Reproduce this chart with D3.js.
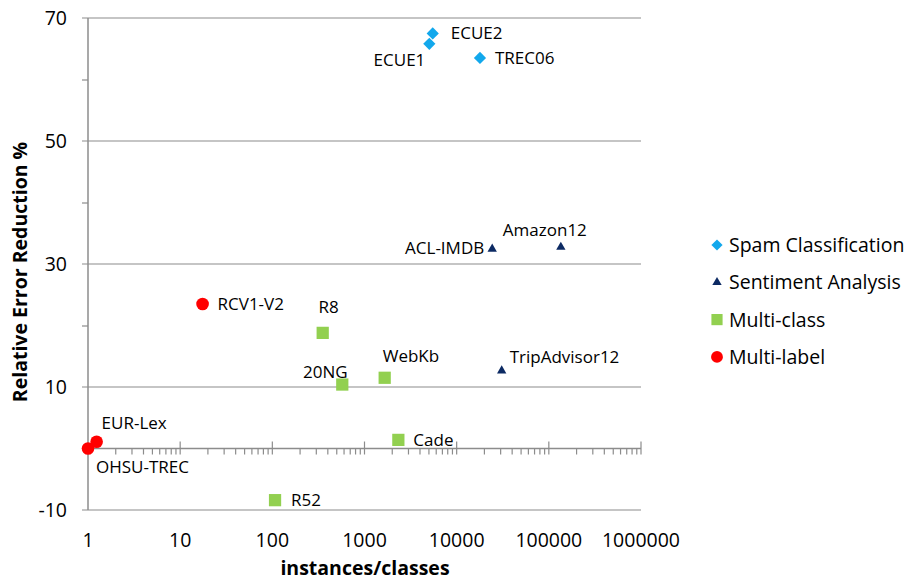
<!DOCTYPE html>
<html>
<head>
<meta charset="utf-8">
<style>
body { margin: 0; background: #fff; }
text { font-family: "Open Sans", sans-serif; fill: #000; }
.grid { stroke: #8c8c8c; stroke-width: 1.2px; }
.axisline { stroke: #8c8c8c; stroke-width: 1.5px; fill: none; }
.tick-label { font-size: 19.5px; }
.pt-label { font-size: 17px; }
.legend text { font-size: 19.5px; }
.title { font-size: 19.5px; font-weight: 700; }
</style>
</head>
<body>
<script src="https://cdn.jsdelivr.net/npm/d3@7"></script>
<script>

// series data: instances/classes vs relative error reduction %
var spamNames = ["ECUE2", "ECUE1", "TREC06"];
var spamX = [5500, 5050, 17900];
var spamY = [67.5, 65.8, 63.5];

var sentNames = ["ACL-IMDB", "Amazon12", "TripAdvisor12"];
var sentX = [24300, 135000, 30800];
var sentY = [32.2, 32.5, 12.4];

var mcNames = ["R8", "20NG", "WebKb", "Cade", "R52"];
var mcX = [352, 574, 1656, 2330, 107];
var mcY = [18.8, 10.4, 11.5, 1.4, -8.4];

var mlNames = ["RCV1-V2", "EUR-Lex", "OHSU-TREC"];
var mlX = [17.5, 1.24, 1.0];
var mlY = [23.5, 1.1, 0];

var yTicks = [-10, 10, 30, 50, 70];
var yMinor = [0, 20, 40, 60];
var xTicks = [1, 10, 100, 1000, 10000, 100000, 1000000];
var legendNames = ["Spam Classification", "Sentiment Analysis", "Multi-class", "Multi-label"];

var width = 908, height = 582;

var x = d3.scaleLog().domain([1, 1000000]).range([88, 641]);
var y = d3.scaleLinear().domain([-10, 70]).range([510, 18]);

var svg = d3.select("body").append("svg")
    .attr("width", width)
    .attr("height", height);

// horizontal gridlines at labelled values
svg.append("g").selectAll("line")
    .data(yTicks)
    .enter().append("line")
    .attr("class", "grid")
    .attr("x1", 82).attr("x2", x(1000000))
    .attr("y1", d => y(d)).attr("y2", d => y(d));

// y axis
var yAxis = d3.axisLeft(y).tickValues(yMinor).tickSize(6).tickFormat("");
svg.append("g")
    .attr("transform", "translate(" + x(1) + ",0)")
    .call(yAxis)
    .call(g => g.select(".domain").remove())
    .selectAll("line").attr("class", "grid");

svg.append("line").attr("class", "axisline")
    .attr("x1", x(1)).attr("x2", x(1))
    .attr("y1", y(70)).attr("y2", y(-10));

svg.append("g").selectAll("text")
    .data(yTicks)
    .enter().append("text")
    .attr("class", "tick-label")
    .attr("text-anchor", "end")
    .attr("x", 67)
    .attr("y", d => y(d))
    .attr("dy", "0.36em")
    .text(d => d);

// x axis drawn at y = 0
var y0 = y(0);
svg.append("line").attr("class", "axisline")
    .attr("x1", x(1)).attr("x2", x(1000000))
    .attr("y1", y0).attr("y2", y0);

var minor = [];
xTicks.slice(0, -1).forEach(function(t) {
  for (var k = 2; k < 10; k++) minor.push(t * k);
});

svg.append("g").selectAll("line")
    .data(minor)
    .enter().append("line")
    .attr("class", "grid")
    .attr("x1", d => x(d)).attr("x2", d => x(d))
    .attr("y1", y0).attr("y2", y0 + 6);

svg.append("g").selectAll("line")
    .data(xTicks.slice(1))
    .enter().append("line")
    .attr("class", "grid")
    .attr("x1", d => x(d)).attr("x2", d => x(d))
    .attr("y1", y0 - 7).attr("y2", y0 + 6);

svg.append("g").selectAll("text")
    .data(xTicks)
    .enter().append("text")
    .attr("class", "tick-label")
    .attr("text-anchor", "middle")
    .attr("x", d => x(d))
    .attr("y", 547)
    .text(d => d);

// axis titles
svg.append("text").attr("class", "title")
    .attr("text-anchor", "middle")
    .attr("x", 365).attr("y", 575)
    .text("instances/classes");

svg.append("text").attr("class", "title")
    .attr("text-anchor", "middle")
    .attr("transform", "translate(27,272) rotate(-90)")
    .text("Relative Error Reduction %");

// marker shapes
var colors = ["#12a8ec", "#0c2a63", "#92d050", "#ff0000"];
var shapes = [
  d3.symbol().type(d3.symbolDiamond2).size(95),
  d3.symbol().type(d3.symbolTriangle).size(38),
  d3.symbol().type(d3.symbolSquare).size(150),
  d3.symbol().type(d3.symbolCircle).size(125)
];

var series = [
  {names: spamNames, xs: spamX, ys: spamY},
  {names: sentNames, xs: sentX, ys: sentY},
  {names: mcNames, xs: mcX, ys: mcY},
  {names: mlNames, xs: mlX, ys: mlY}
];

// label placement relative to the marker: dx, dy, anchor
var labelPos = {
  "ECUE2": [18, 0, "start"],
  "ECUE1": [-4, 16, "end"],
  "TREC06": [15, 0, "start"],
  "ACL-IMDB": [-8, -3, "end"],
  "Amazon12": [-16, -19, "middle"],
  "TripAdvisor12": [8, -15, "start"],
  "R8": [6, -26, "middle"],
  "20NG": [-17, -13, "middle"],
  "WebKb": [-2, -22, "start"],
  "Cade": [15, 0, "start"],
  "R52": [16, 0, "start"],
  "RCV1-V2": [15, 0, "start"],
  "EUR-Lex": [5, -19, "start"],
  "OHSU-TREC": [8, 18, "start"]
};

series.forEach(function(s, i) {
  var pts = s.names.map((n, j) => ({name: n, x: s.xs[j], y: s.ys[j]}));
  var g = svg.append("g");
  g.selectAll("path")
      .data(pts)
      .enter().append("path")
      .attr("d", shapes[i])
      .attr("fill", colors[i])
      .attr("transform", d => "translate(" + x(d.x) + "," + (y(d.y) - (i == 1 ? 1.5 : 0)) + ")");
  g.selectAll("text")
      .data(pts)
      .enter().append("text")
      .attr("class", "pt-label")
      .attr("text-anchor", d => labelPos[d.name][2])
      .attr("x", d => x(d.x) + labelPos[d.name][0])
      .attr("y", d => y(d.y) + labelPos[d.name][1])
      .attr("dy", "0.36em")
      .text(d => d.name);
});

// legend
var legend = svg.append("g").attr("class", "legend")
    .selectAll("g")
    .data(legendNames)
    .enter().append("g")
    .attr("transform", (d, i) => "translate(717," + (245 + i * 37.3) + ")");

legend.append("path")
    .attr("d", (d, i) => shapes[i].size([80, 38, 125, 110][i])())
    .attr("fill", (d, i) => colors[i]);

legend.append("text")
    .attr("x", 12)
    .attr("dy", "0.36em")
    .text(d => d);

</script>
</body>
</html>
